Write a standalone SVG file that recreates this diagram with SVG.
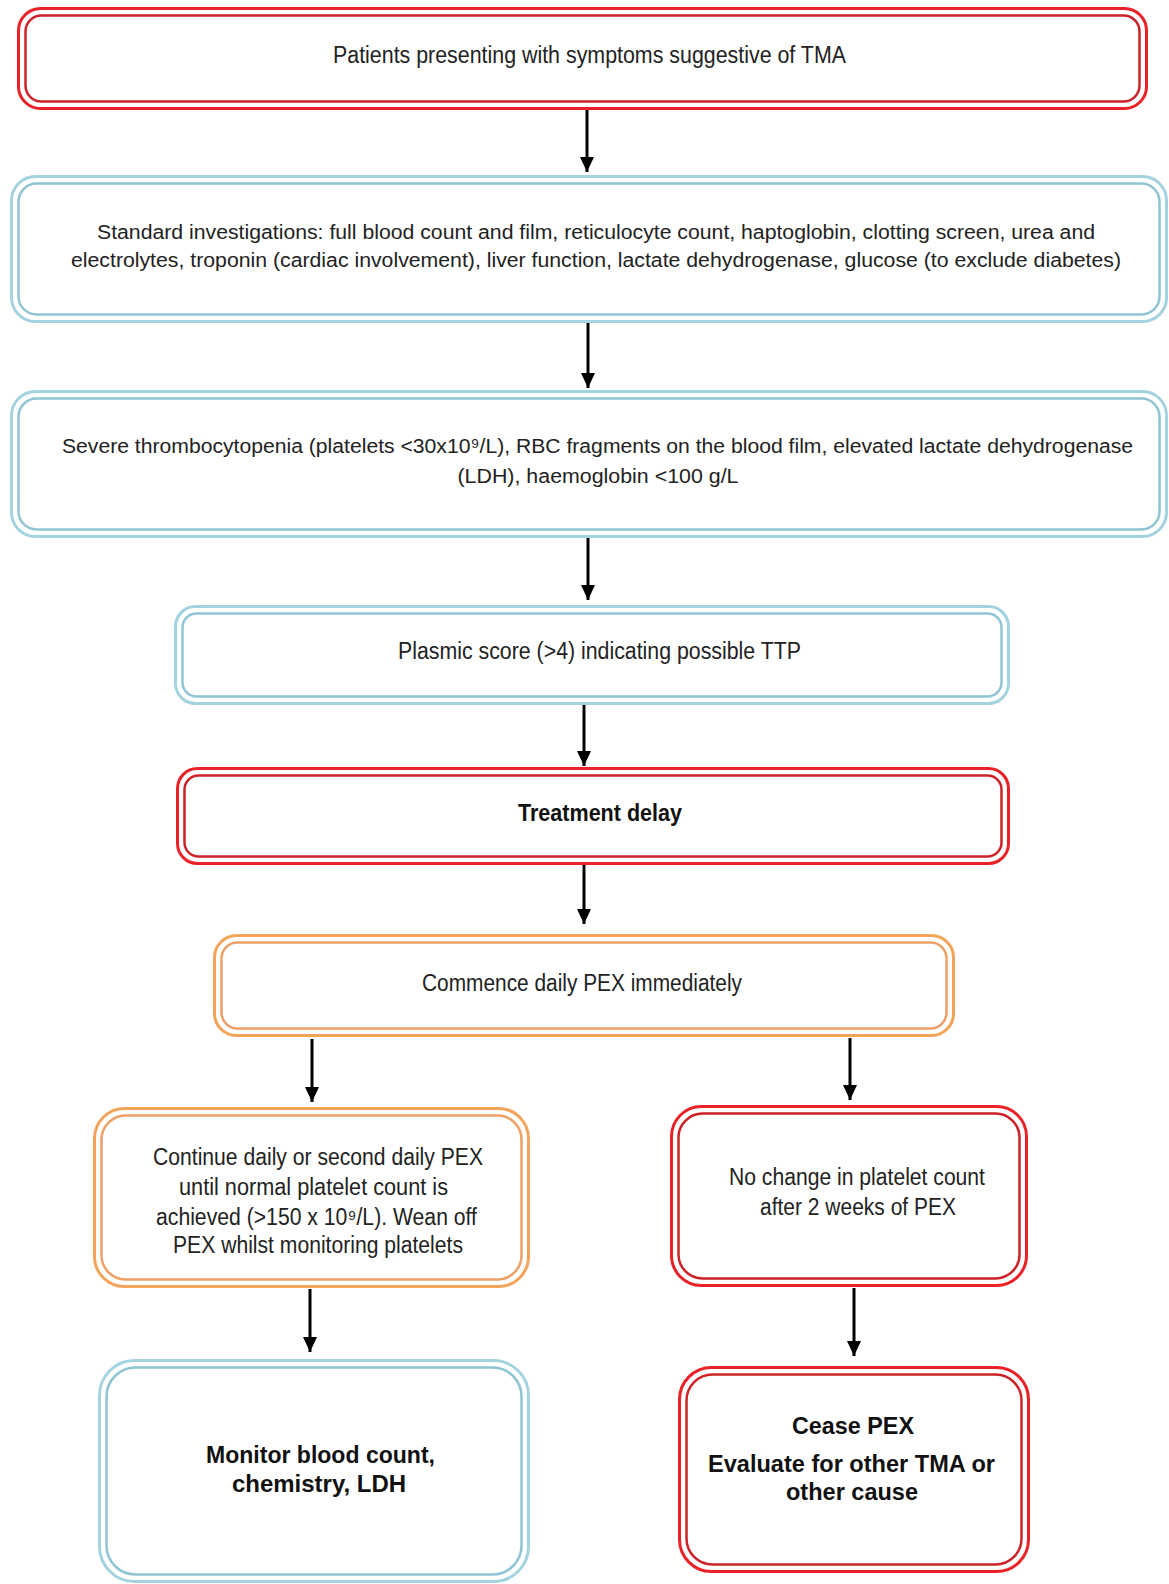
<svg xmlns="http://www.w3.org/2000/svg" width="1169" height="1584" viewBox="0 0 1169 1584">
<style>
  .o{fill:none;stroke-width:3}
  .i{fill:none;stroke-width:2.5}
  .red .o{stroke:#ea2127}
  .red .i{stroke:#cc2329}
  .blue .o{stroke:#a3d3de}
  .blue .i{stroke:#8fc5d3}
  .orange .o{stroke:#f4a35a}
  .orange .i{stroke:#eea066}
  text{font-family:"Liberation Sans",Arial,sans-serif;font-size:23px;fill:#222;text-anchor:middle}
  .s{font-size:20px}
  .b{font-weight:bold;fill:#111}
  .c line{stroke:#000;stroke-width:3;marker-end:url(#ah)}
</style>
<defs>
  <marker id="ah" markerUnits="userSpaceOnUse" markerWidth="14" markerHeight="15" refX="15" refY="7" orient="auto">
    <path d="M0,0 L15,7 L0,14 z" fill="#000"/>
  </marker>
</defs>
<rect width="1169" height="1584" fill="#fff"/>

<g id="n1" class="red">
  <rect class="o" x="18.5" y="8.5" width="1128" height="100" rx="22"/>
  <rect class="i" x="25.5" y="15.5" width="1114" height="86" rx="16"/>
  <text x="589.5" y="63" textLength="513" lengthAdjust="spacingAndGlyphs">Patients presenting with symptoms suggestive of TMA</text>
</g>

<g id="n2" class="blue">
  <rect class="o" x="11.5" y="176.5" width="1155" height="145" rx="24"/>
  <rect class="i" x="18.5" y="183.5" width="1141" height="131" rx="18"/>
  <text class="s" x="596" y="239" textLength="998" lengthAdjust="spacingAndGlyphs">Standard investigations:  full blood count and film, reticulocyte count, haptoglobin, clotting screen, urea and</text>
  <text class="s" x="596" y="267" textLength="1050" lengthAdjust="spacingAndGlyphs">electrolytes, troponin (cardiac involvement), liver function, lactate dehydrogenase, glucose (to exclude diabetes)</text>
</g>

<g id="n3" class="blue">
  <rect class="o" x="11.5" y="391.5" width="1155" height="145" rx="24"/>
  <rect class="i" x="18.5" y="398.5" width="1141" height="131" rx="18"/>
  <text class="s" x="597.5" y="453" textLength="1071" lengthAdjust="spacingAndGlyphs">Severe thrombocytopenia (platelets &lt;30x10⁹/L), RBC fragments on the blood film, elevated lactate dehydrogenase</text>
  <text class="s" x="598" y="483" textLength="281" lengthAdjust="spacingAndGlyphs">(LDH), haemoglobin &lt;100 g/L</text>
</g>

<g id="n4" class="blue">
  <rect class="o" x="175.5" y="606.5" width="833" height="97" rx="20"/>
  <rect class="i" x="182.5" y="613.5" width="819" height="83" rx="14"/>
  <text x="599.5" y="659" textLength="403" lengthAdjust="spacingAndGlyphs">Plasmic score (&gt;4) indicating possible TTP</text>
</g>

<g id="n5" class="red">
  <rect class="o" x="177.5" y="768.5" width="831" height="95" rx="20"/>
  <rect class="i" x="184.5" y="775.5" width="817" height="81" rx="14"/>
  <text class="b" x="600" y="821" textLength="164" lengthAdjust="spacingAndGlyphs">Treatment delay</text>
</g>

<g id="n6" class="orange">
  <rect class="o" x="214.5" y="935.5" width="739" height="100" rx="22"/>
  <rect class="i" x="221.5" y="942.5" width="725" height="86" rx="16"/>
  <text x="582" y="991" textLength="320" lengthAdjust="spacingAndGlyphs">Commence daily PEX immediately</text>
</g>

<g id="n7" class="orange">
  <rect class="o" x="94.5" y="1108.5" width="434" height="178" rx="30"/>
  <rect class="i" x="101.5" y="1115.5" width="420" height="164" rx="24"/>
  <text x="318" y="1165" textLength="330" lengthAdjust="spacingAndGlyphs">Continue daily or second daily PEX</text>
  <text x="313.5" y="1195" textLength="269" lengthAdjust="spacingAndGlyphs">until normal platelet count is</text>
  <text x="316.5" y="1225" textLength="321" lengthAdjust="spacingAndGlyphs">achieved (&gt;150 x 10⁹/L). Wean off</text>
  <text x="318" y="1253" textLength="290" lengthAdjust="spacingAndGlyphs">PEX whilst monitoring platelets</text>
</g>

<g id="n8" class="red">
  <rect class="o" x="671.5" y="1106.5" width="355" height="179" rx="30"/>
  <rect class="i" x="678.5" y="1113.5" width="341" height="165" rx="24"/>
  <text x="857" y="1185" textLength="256" lengthAdjust="spacingAndGlyphs">No change in platelet count</text>
  <text x="858" y="1215" textLength="196" lengthAdjust="spacingAndGlyphs">after 2 weeks of PEX</text>
</g>

<g id="n9" class="blue">
  <rect class="o" x="99.5" y="1360.5" width="429" height="221" rx="35"/>
  <rect class="i" x="106.5" y="1367.5" width="415" height="207" rx="29"/>
  <text class="b" x="320.5" y="1463" textLength="229" lengthAdjust="spacingAndGlyphs">Monitor blood count,</text>
  <text class="b" x="319" y="1492" textLength="174" lengthAdjust="spacingAndGlyphs">chemistry, LDH</text>
</g>

<g id="n10" class="red">
  <rect class="o" x="679.5" y="1367.5" width="349" height="204" rx="32"/>
  <rect class="i" x="686.5" y="1374.5" width="335" height="190" rx="26"/>
  <text class="b" x="853" y="1434" textLength="122" lengthAdjust="spacingAndGlyphs">Cease PEX</text>
  <text class="b" x="851.5" y="1472" textLength="287" lengthAdjust="spacingAndGlyphs">Evaluate for other TMA or</text>
  <text class="b" x="852" y="1500" textLength="132" lengthAdjust="spacingAndGlyphs">other cause</text>
</g>

<g id="connectors" class="c">
  <line x1="587" y1="110" x2="587" y2="172"/>
  <line x1="588" y1="323" x2="588" y2="388"/>
  <line x1="588" y1="538" x2="588" y2="600"/>
  <line x1="584" y1="705" x2="584" y2="766"/>
  <line x1="584" y1="865" x2="584" y2="924"/>
  <line x1="312" y1="1039" x2="312" y2="1102"/>
  <line x1="850" y1="1038" x2="850" y2="1100"/>
  <line x1="310" y1="1289" x2="310" y2="1352"/>
  <line x1="854" y1="1288" x2="854" y2="1356"/>
</g>
</svg>
